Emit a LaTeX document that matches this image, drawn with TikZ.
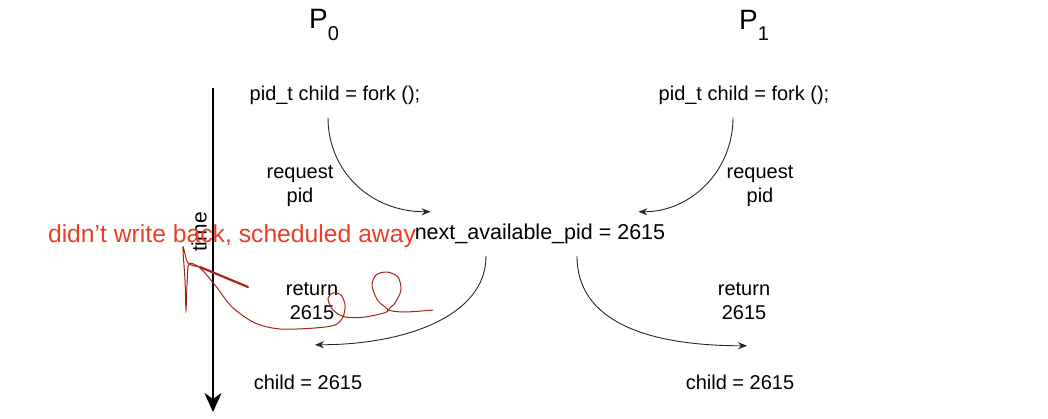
\documentclass[tikz,border=0pt]{standalone}
\usepackage{fontspec}
\setmainfont{Liberation Sans}
\usetikzlibrary{arrows.meta, positioning}
\definecolor{noteRed}{RGB}{232,62,40}
\definecolor{inkRed}{RGB}{165,35,20}

\begin{document}
\begin{tikzpicture}[x=1pt, y=-1pt, auto,
    txt/.style={align=center, inner sep=1pt, font=\fontsize{20}{24}\selectfont},
    proc/.style={inner sep=1pt, font=\fontsize{28}{30}\selectfont},
    flow/.style={-{Stealth[length=9pt, width=7pt, inset=3pt]}, line width=0.9pt, draw=black!85}]
    \useasboundingbox (0,0) rectangle (1048,418);

    \node[proc] (p0) at (324,25) {P\raisebox{-0.4em}{\fontsize{20}{20}\selectfont 0}};
    \node[proc] (p1) at (754,25) {P\raisebox{-0.4em}{\fontsize{20}{20}\selectfont 1}};

    \node[txt] (fork0) at (335,95) {pid\_t child = fork ();};
    \node[txt] (fork1) at (744,95) {pid\_t child = fork ();};
    \node[txt] (req0) at (300,186) {request\\pid};
    \node[txt] (req1) at (760,186) {request\\pid};
    \node[txt, font=\fontsize{21.5}{24}\selectfont] (pid) at (540,234) {next\_available\_pid = 2615};
    \node[txt] (ret0) at (312,301) {return\\2615};
    \node[txt] (ret1) at (744,301) {return\\2615};
    \node[txt] (child0) at (308,382) {child = 2615};
    \node[txt] (child1) at (740,382) {child = 2615};

    \draw[flow] ([shift={(-7,12)}]fork0.south) .. controls +(0,53) and +(-61,0) .. ([shift={(17,-11)}]pid.north west);
    \draw[flow] ([shift={(-11,12)}]fork1.south) .. controls +(0,53) and +(53,0) .. ([shift={(-28,-11)}]pid.north east);
    \draw[flow] ([shift={(-54,11)}]pid.south) .. controls +(0,60) and +(90,0) .. ([shift={(3,24)}]ret0.south);
    \draw[flow] ([shift={(37,11)}]pid.south) .. controls +(0,65) and +(-100,0) .. ([shift={(3,25)}]ret1.south);

    % time axis
    \node[txt, rotate=90, font=\fontsize{21}{24}\selectfont] (time) at (199,232) {time};
    \node[inner sep=0pt, text=noteRed, font=\fontsize{24.7}{26}\selectfont] (note) at (232,236) {didn’t write back, scheduled away};
    \coordinate (tstart) at (213,88);
    \coordinate (tend) at (213,412);
    \draw[-{Stealth[length=19pt, width=17pt, inset=6pt]}, line width=1.8pt] (tstart) -- (tend);

    % scribble
    \draw[inkRed, line width=2.2pt, line cap=round] (248,287) -- (200,267);
    \draw[inkRed, line width=1pt, line cap=round] plot[smooth, tension=0.5] coordinates {
        (200,267) (188,263) (183,247) (185,280) (186,310) (187,285) (189,264) (200,268)
        (215,285) (232,307) (255,323) (280,329) (315,328) (335,325) (343,317) (345,305)
        (341,295) (333,293) (328,299) (333,310) (345,317) (365,317) (388,311) (378,301)
        (372,286) (376,275) (387,272) (398,277) (401,290) (395,303) (389,310) (405,312) (433,310)};
\end{tikzpicture}
\end{document}
